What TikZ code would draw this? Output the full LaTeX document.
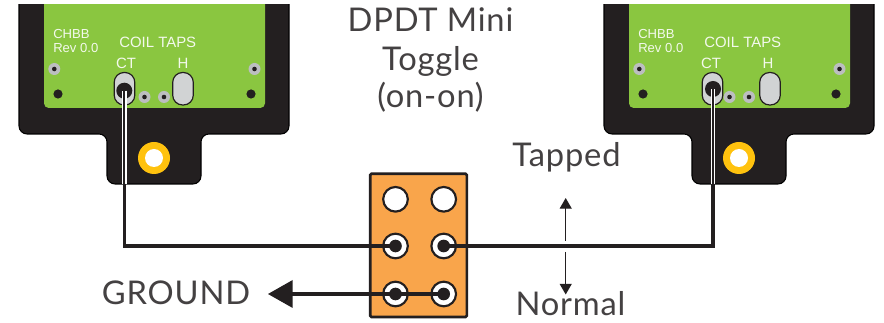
\documentclass[tikz,border=0pt]{standalone}
\usepackage{fontspec}
\setmainfont{Lato}
\newfontfamily\helv{Liberation Sans}
\usetikzlibrary{arrows.meta}
\definecolor{ink}{HTML}{231F20}
\definecolor{board}{HTML}{231F20}
\definecolor{pcb}{HTML}{8AC640}
\definecolor{slot}{HTML}{D1D3D4}
\definecolor{pad}{HTML}{BCBEC0}
\definecolor{gold}{HTML}{FFC20E}
\definecolor{sw}{HTML}{F9A54B}
\tikzset{
  x=0.75pt,y=-0.75pt,
  lab/.style={font=\helv\fontsize{9.8}{9.8}\selectfont,text=white!90!pcb,inner sep=0pt},
  labb/.style={font=\helv\fontsize{11.2}{11.2}\selectfont,text=white!90!pcb,inner sep=0pt},
  big/.style={font=\fontsize{24.5}{24.5}\selectfont\addfontfeature{LetterSpace=2.5},text=ink!85,inner sep=0pt},
  wire/.style={draw=ink,line width=2.4pt},
  term/.style={circle,draw=ink,line width=1.6pt,fill=white,minimum size=18.5pt,inner sep=0pt},
  dot/.style={circle,fill=ink,minimum size=9.5pt,inner sep=0pt},
  thin arrow/.style={draw=ink,line width=0.9pt,-{Triangle[length=8pt,width=9pt]}},
}
\newcommand{\bodyboard}[1]{%
\begin{scope}[xshift=#1*0.75pt]
\fill[board,draw=black,line width=0.8pt,rounded corners=6pt]
  (19,-10)--(289,-10)--(289,134)--(201,134)--(201,184)--(107,184)--(107,134)--(19,134)--cycle;
\fill[pcb,rounded corners=3.5pt] (44,-10)--(265,-10)--(265,108)--(44,108)--cycle;
\foreach \p in {(54.3,69),(254.5,69),(144.5,97),(164,97)}{
  \fill[pad] \p circle (6);
  \fill[ink] \p circle (2.3);
}
\foreach \p in {(58,94),(251,94)}{\fill[ink] \p circle (4.6);}
\fill[gold] (154,158) circle (16);
\fill[white] (154,158) circle (9);
\node[lab,anchor=base west] at (53,38.5) {CHBB};
\node[lab,anchor=base west] at (53,53) {Rev 0.0};
\node[labb,anchor=base west] at (119,48) {COIL TAPS};
\node[labb,anchor=base] at (126,68.5) {CT};
\node[labb,anchor=base] at (183,68.5) {H};
\end{scope}}
\newcommand{\slotshape}[2]{%
\draw[ink,line width=0.9pt,fill=slot,rounded corners=7.4pt] (#1-10.3,72.5) rectangle (#1+10.3,105);
\node[inner sep=0pt,minimum size=0pt] (#2) at (#1,88) {};}
\begin{document}
\begin{tikzpicture}
\useasboundingbox (0,0) rectangle (884,323);
\fill[white] (0,0) rectangle (884,323);
\begin{scope}
\clip (0,5) rectangle (884,323);
\bodyboard{0}
\bodyboard{585}
\end{scope}
\slotshape{124.5}{ctl}
\slotshape{183}{hl}
\slotshape{712.5}{ctr}
\slotshape{770}{hr}
% switch
\node[draw=ink,line width=2pt,fill=sw,rounded corners=1pt,minimum width=72.5pt,minimum height=107.5pt,inner sep=0pt] (toggle) at (418.5,245.4) {};
\node[term] (t11) at (395.5,199.3) {};
\node[term] (t12) at (443.7,199.3) {};
\node[term] (t21) at (395.5,246) {};
\node[term] (t22) at (443.7,246) {};
\node[term] (t31) at (395.5,294) {};
\node[term] (t32) at (443.7,294) {};
\node[dot] (d21) at (t21.center) {};
\node[dot] (d22) at (t22.center) {};
\node[dot] (d31) at (t31.center) {};
\node[dot] (d32) at (t32.center) {};
% holes on boards
\node[dot,minimum size=12pt] (hl1) at (124.3,90.7) {};
\node[dot,minimum size=12pt] (hr1) at (713,89) {};
% wires
\draw[white,line width=3.6pt] (hl1.center)--(124.3,184);
\draw[white,line width=3.6pt] (hr1.center)--(713,184);
\draw[wire,line width=1.6pt] (hl1.center)--(124.3,184);
\draw[wire,line width=1.6pt] (hr1.center)--(713,184);
\draw[wire] (124.3,184) |- (d21.center);
\draw[wire] (713,184) |- (d22.center);
\coordinate (gtip) at (268,294);
\draw[wire,line width=3pt] (d32.center)--(290,294);
\fill[ink] (gtip)--(292.7,280)--(292.7,308)--cycle;
% texts
\node[big,anchor=base] (ttl1) at (430.5,32) {DPDT Mini};
\node[big,anchor=base] (ttl2) at (430.5,71) {Toggle};
\node[big,anchor=base] (ttl3) at (430.5,108) {(on-on)};
\node[big,anchor=base] (tap) at (566.5,167) {Tapped};
\node[big,anchor=base] (nor) at (570.5,316) {Normal};
\node[big,anchor=base] (gnd) at (176,305) {GROUND};
\coordinate (au1) at (565.7,240.7);
\coordinate (au2) at (565.7,198);
\coordinate (ad1) at (565.7,252);
\coordinate (ad2) at (565.7,294.5);
\draw[thin arrow] (au1)--(au2);
\draw[thin arrow] (ad1)--(ad2);
\end{tikzpicture}
\end{document}
